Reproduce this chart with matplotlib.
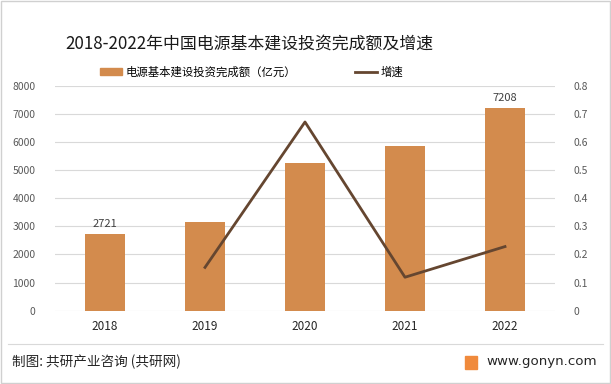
import matplotlib.pyplot as plt
from matplotlib.patches import Rectangle
from matplotlib.lines import Line2D
from matplotlib.patches import Patch

plt.rcParams['font.family'] = ['Noto Sans CJK SC', 'DejaVu Sans']

# ── Data ─────────────────────────────────────────────────────────────────────
years = ['2018', '2019', '2020', '2021', '2022']
invest = [2721, 3139, 5244, 5868, 7208]          # 亿元
growth_years = ['2019', '2020', '2021', '2022']
growth = [0.154, 0.671, 0.119, 0.228]
labelled = {'2018': 2721, '2022': 7208}

bar_color = '#D38B4D'
line_color = '#654630'
tick_color = '#595959'

fig = plt.figure(figsize=(6.11, 3.84), dpi=100)
ax = fig.add_axes([55 / 611, 1 - 310.7 / 384, 500 / 611, 225 / 384])

x = list(range(len(years)))
ax.bar(x, invest, width=0.4, color=bar_color, zorder=2)
for xi, y in zip(x, years):
    if y in labelled:
        ax.text(xi, labelled[y] + 180, str(labelled[y]), ha='center', va='bottom',
                fontsize=8, color='#404040')

ax.set_xlim(-0.5, len(years) - 0.5)
ax.set_ylim(0, 8000)
ax.set_yticks(range(0, 8001, 1000))
ax.set_xticks(x)
ax.set_xticklabels(years, fontsize=8.5, color='#262626')
ax.tick_params(axis='y', labelsize=7.5, labelcolor=tick_color, length=0, pad=14)
ax.tick_params(axis='x', length=0, pad=7)
ax.grid(axis='y', color='#D9D9D9', linewidth=0.8, zorder=0)
ax.set_axisbelow(True)
for s in ax.spines.values():
    s.set_visible(False)

ax2 = ax.twinx()
gx = [years.index(y) for y in growth_years]
ax2.plot(gx, growth, color=line_color, linewidth=2.0, zorder=3)
ax2.set_ylim(0, 0.8)
ax2.set_yticks([i / 10 for i in range(9)])
ax2.set_yticklabels(['0'] + [f'{i / 10:.1f}' for i in range(1, 9)])
ax2.tick_params(axis='y', labelsize=7.5, labelcolor=tick_color, length=0, pad=13)
for s in ax2.spines.values():
    s.set_visible(False)

# ── Title & legend ───────────────────────────────────────────────────────────
fig.text(65 / 611, 1 - 43 / 384, '2018-2022年中国电源基本建设投资完成额及增速',
         fontsize=12.2, color='#1a1a1a', ha='left', va='center')

handles = [Patch(color=bar_color, label='电源基本建设投资完成额（亿元）'),
           Line2D([], [], color=line_color, linewidth=2.0, label='增速')]
fig.legend(handles=handles, loc='center', bbox_to_anchor=(0.412, 1 - 72 / 384),
           ncol=2, frameon=False, fontsize=8.2, handlelength=1.9, handleheight=0.6,
           handletextpad=0.3, columnspacing=5.2)

# ── Footer ───────────────────────────────────────────────────────────────────
fig.add_artist(Line2D([8 / 611, 603 / 611], [1 - 344 / 384, 1 - 344 / 384],
                      color='#D9D9D9', linewidth=0.8))
fig.text(12 / 611, 1 - 362 / 384, '制图: 共研产业咨询 (共研网)', fontsize=9.8,
         color='#262626', ha='left', va='center')
fig.text(597 / 611, 1 - 362 / 384, 'www.gonyn.com', fontsize=9.6,
         color='#262626', ha='right', va='center', family='DejaVu Sans')
fig.add_artist(Rectangle((465 / 611, 1 - 369 / 384), 12 / 611, 13 / 384,
                         color='#F08A3C', transform=fig.transFigure))

# outer border
fig.add_artist(Rectangle((1 / 611, 1 / 384), 609 / 611, 382 / 384, fill=False,
                         edgecolor='#D0D0D0', linewidth=1.0, transform=fig.transFigure))

fig.savefig('out.png', dpi=100)
